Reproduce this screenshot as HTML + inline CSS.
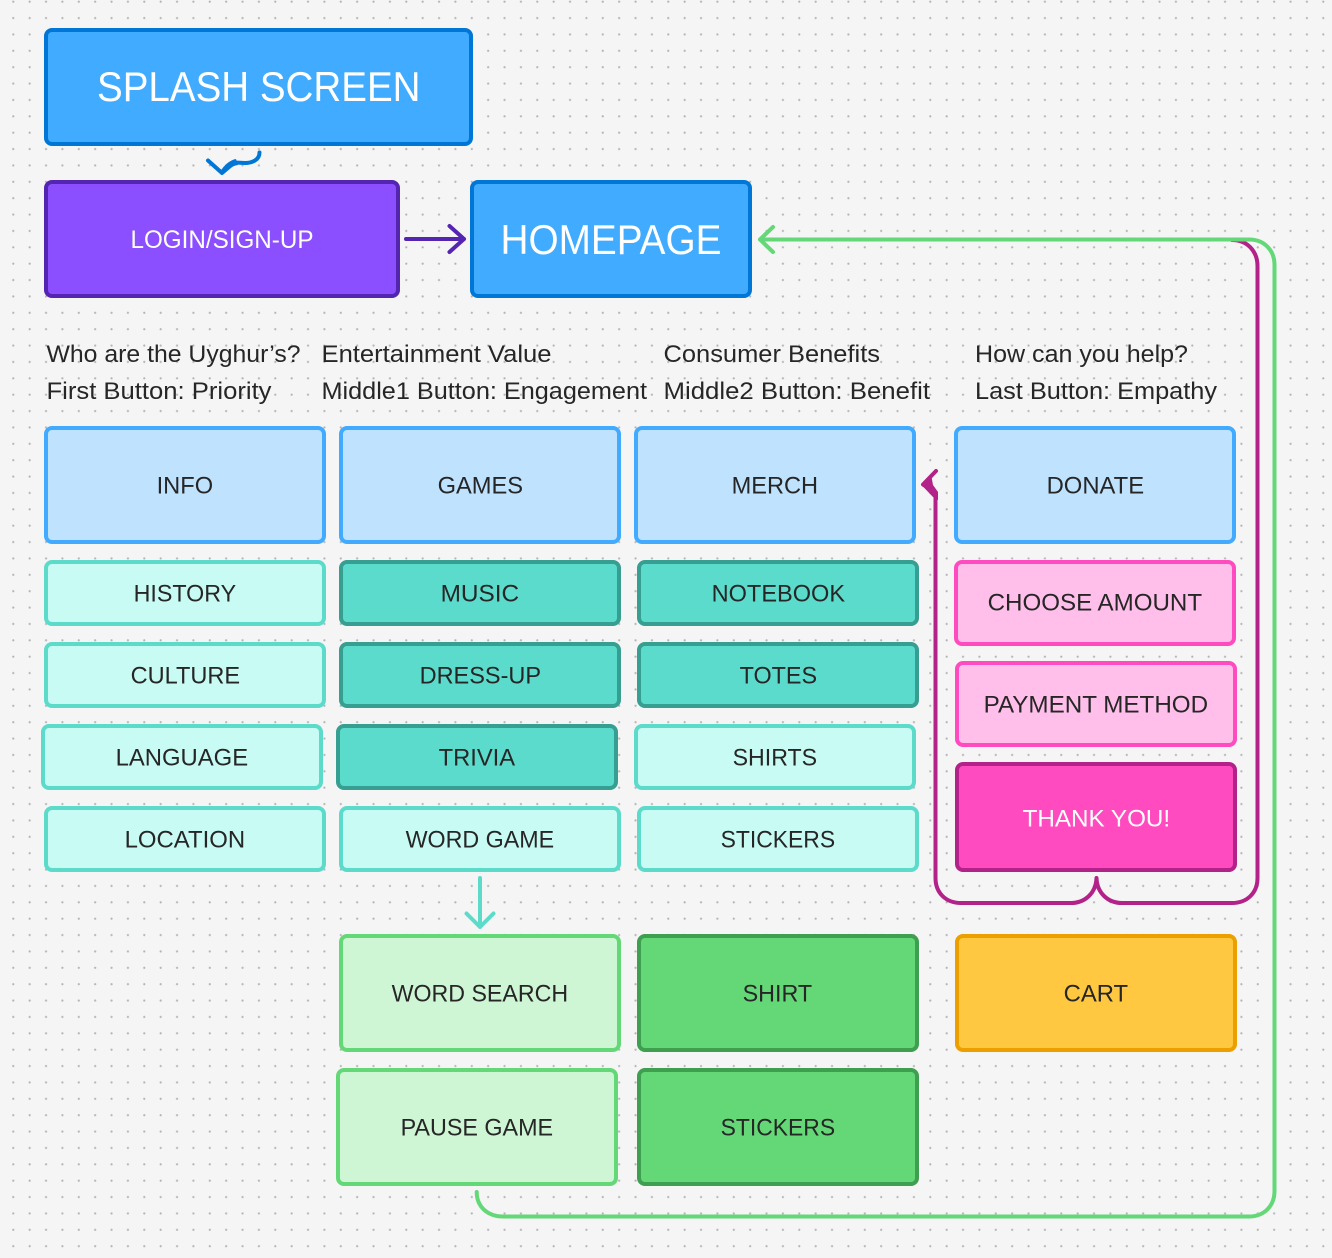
<!DOCTYPE html>
<html><head><meta charset="utf-8"><style>
html,body{margin:0;padding:0;background:#f5f5f5}
svg{display:block}
text{font-family:"Liberation Sans",sans-serif;font-size:24px;fill:#262626}
.w{fill:#fff}
.c{fill:none;stroke-width:4;stroke-linecap:round;stroke-linejoin:round}
rect{stroke-width:4}
.blue{fill:#40abff;stroke:#0077d6}
.pur{fill:#8c4fff;stroke:#5425b0}
.lb{fill:#bfe3ff;stroke:#42abff}
.lt{fill:#c7fbf4;stroke:#5cdbcb}
.t{fill:#5bdbcb;stroke:#379e92}
.lp{fill:#ffbfea;stroke:#ff4bbf}
.p{fill:#ff4bbf;stroke:#b22288}
.lg{fill:#cef5d4;stroke:#64d877}
.g{fill:#64d877;stroke:#3e9f50}
.y{fill:#ffc840;stroke:#eba000}
</style></head><body>
<svg width="1332" height="1258" viewBox="0 0 1332 1258" xmlns="http://www.w3.org/2000/svg">
<defs><pattern id="d" patternUnits="userSpaceOnUse" x="5.1" y="-6.5" width="16.375" height="16.375"><circle cx="8.19" cy="8.19" r="1.1" fill="#b4b4b4"/></pattern></defs>
<rect width="1332" height="1258" fill="#f5f5f5" style="stroke:none"/>
<rect width="1332" height="1258" fill="url(#d)" style="stroke:none"/>

<!-- connectors -->
<path class="c" stroke="#b22288" d="M1232 240 C1247 240 1257.5 251 1257.5 266 V878 C1257.5 893 1247 903 1232 903 H1122 C1108 903 1097 893 1096.5 878 C1096 893 1085 903 1071 903 H961 C946 903 935.5 893 935.5 878 V498 C935.5 494 934 492 932 490 L923 484.5 L936 471"/>
<path d="M921 484.5 L931 474 L933 485 L938 492 L938 500 L933 497 Z" fill="#b22288"/>
<path class="c" stroke="#64d877" d="M476.7 1192 C476.7 1207 488 1216.5 503 1216.5 H1249 C1264 1216.5 1274.5 1206 1274.5 1191 V265 C1274.5 250 1264 239.5 1249 239.5 H760 M773 227 L760 239.5 L773 252"/>
<path class="c" stroke="#5425b0" d="M406 239 H464 M449.5 226 L464 239 L449.5 252"/>
<path class="c" stroke="#5cdbcb" d="M480 878 V926 M466.5 913.5 L480 927 L493.5 913.5"/>
<path class="c" stroke="#0077d6" d="M259.5 152.5 C259.5 160 252 163 245 163 L235 162.5 M208 160.5 L222 173 L235 162"/>
<path d="M220 172 C224 165 230 160 236 159 L238 165 C231 166 227 171 222 175 Z" fill="#0077d6"/>

<!-- boxes -->
<rect class="blue" x="46" y="30" width="425" height="114" rx="6"/>
<rect class="pur" x="46" y="182" width="352" height="114" rx="6"/>
<rect class="blue" x="472" y="182" width="278" height="114" rx="6"/>

<rect class="lb" x="46" y="428" width="278" height="114" rx="6"/>
<rect class="lb" x="341" y="428" width="278" height="114" rx="6"/>
<rect class="lb" x="636" y="428" width="278" height="114" rx="6"/>
<rect class="lb" x="956" y="428" width="278" height="114" rx="6"/>

<rect class="lt" x="46" y="562" width="278" height="62" rx="6"/>
<rect class="lt" x="46" y="644" width="278" height="62" rx="6"/>
<rect class="lt" x="43" y="726" width="278" height="62" rx="6"/>
<rect class="lt" x="46" y="808" width="278" height="62" rx="6"/>

<rect class="t" x="341" y="562" width="278" height="62" rx="6"/>
<rect class="t" x="341" y="644" width="278" height="62" rx="6"/>
<rect class="t" x="338" y="726" width="278" height="62" rx="6"/>
<rect class="lt" x="341" y="808" width="278" height="62" rx="6"/>

<rect class="t" x="639" y="562" width="278" height="62" rx="6"/>
<rect class="t" x="639" y="644" width="278" height="62" rx="6"/>
<rect class="lt" x="636" y="726" width="278" height="62" rx="6"/>
<rect class="lt" x="639" y="808" width="278" height="62" rx="6"/>

<rect class="lp" x="956" y="562" width="278" height="82" rx="6"/>
<rect class="lp" x="957" y="663" width="278" height="82" rx="6"/>
<rect class="p" x="957" y="764" width="278" height="106" rx="6"/>

<rect class="lg" x="341" y="936" width="278" height="114" rx="6"/>
<rect class="g" x="639" y="936" width="278" height="114" rx="6"/>
<rect class="y" x="957" y="936" width="278" height="114" rx="6"/>
<rect class="lg" x="338" y="1070" width="278" height="114" rx="6"/>
<rect class="g" x="639" y="1070" width="278" height="114" rx="6"/>

<!-- labels -->
<text class="w" x="97" y="101.2" style="font-size:42px" textLength="323.5" lengthAdjust="spacingAndGlyphs">SPLASH SCREEN</text>
<text class="w" x="130.5" y="248" style="font-size:25px" textLength="183" lengthAdjust="spacingAndGlyphs">LOGIN/SIGN-UP</text>
<text class="w" x="500.5" y="254" style="font-size:42px" textLength="221" lengthAdjust="spacingAndGlyphs">HOMEPAGE</text>

<text x="46.5" y="362" textLength="254" lengthAdjust="spacingAndGlyphs">Who are the Uyghur’s?</text>
<text x="46.5" y="399" textLength="225" lengthAdjust="spacingAndGlyphs">First Button: Priority</text>
<text x="321.5" y="362" textLength="230" lengthAdjust="spacingAndGlyphs">Entertainment Value</text>
<text x="321.5" y="399" textLength="325.5" lengthAdjust="spacingAndGlyphs">Middle1 Button: Engagement</text>
<text x="663.5" y="362" textLength="216.5" lengthAdjust="spacingAndGlyphs">Consumer Benefits</text>
<text x="663.5" y="399" textLength="266.5" lengthAdjust="spacingAndGlyphs">Middle2 Button: Benefit</text>
<text x="975" y="362" textLength="213" lengthAdjust="spacingAndGlyphs">How can you help?</text>
<text x="975" y="399" textLength="242" lengthAdjust="spacingAndGlyphs">Last Button: Empathy</text>

<g transform="translate(-0.4,-0.7)">
<text x="157" y="494" textLength="56.5" lengthAdjust="spacingAndGlyphs">INFO</text>
<text x="438" y="494" textLength="85.5" lengthAdjust="spacingAndGlyphs">GAMES</text>
<text x="732" y="494" textLength="86.5" lengthAdjust="spacingAndGlyphs">MERCH</text>
<text x="1047" y="494" textLength="97.5" lengthAdjust="spacingAndGlyphs">DONATE</text>

<text x="134" y="602" textLength="102.5" lengthAdjust="spacingAndGlyphs">HISTORY</text>
<text x="131" y="684" textLength="109.5" lengthAdjust="spacingAndGlyphs">CULTURE</text>
<text x="116" y="766" textLength="132.5" lengthAdjust="spacingAndGlyphs">LANGUAGE</text>
<text x="125" y="848" textLength="120.5" lengthAdjust="spacingAndGlyphs">LOCATION</text>

<text x="441" y="602" textLength="78.5" lengthAdjust="spacingAndGlyphs">MUSIC</text>
<text x="420" y="684" textLength="121.5" lengthAdjust="spacingAndGlyphs">DRESS-UP</text>
<text x="439" y="766" textLength="76.5" lengthAdjust="spacingAndGlyphs">TRIVIA</text>
<text x="406" y="848" textLength="148.5" lengthAdjust="spacingAndGlyphs">WORD GAME</text>

<text x="712" y="602" textLength="133.5" lengthAdjust="spacingAndGlyphs">NOTEBOOK</text>
<text x="740" y="684" textLength="77.5" lengthAdjust="spacingAndGlyphs">TOTES</text>
<text x="733" y="766" textLength="84.5" lengthAdjust="spacingAndGlyphs">SHIRTS</text>
<text x="721" y="848" textLength="114.5" lengthAdjust="spacingAndGlyphs">STICKERS</text>

<text x="988" y="611" textLength="214.5" lengthAdjust="spacingAndGlyphs">CHOOSE AMOUNT</text>
<text x="984" y="713" textLength="224.5" lengthAdjust="spacingAndGlyphs">PAYMENT METHOD</text>
<text class="w" x="1023" y="827" textLength="147.5" lengthAdjust="spacingAndGlyphs">THANK YOU!</text>

<text x="392" y="1002" textLength="176.5" lengthAdjust="spacingAndGlyphs">WORD SEARCH</text>
<text x="743" y="1002" textLength="69.5" lengthAdjust="spacingAndGlyphs">SHIRT</text>
<text x="1064" y="1002" textLength="64.5" lengthAdjust="spacingAndGlyphs">CART</text>
<text x="401" y="1136" textLength="152.5" lengthAdjust="spacingAndGlyphs">PAUSE GAME</text>
<text x="721" y="1136" textLength="114.5" lengthAdjust="spacingAndGlyphs">STICKERS</text>
</g>
</svg>
</body></html>
